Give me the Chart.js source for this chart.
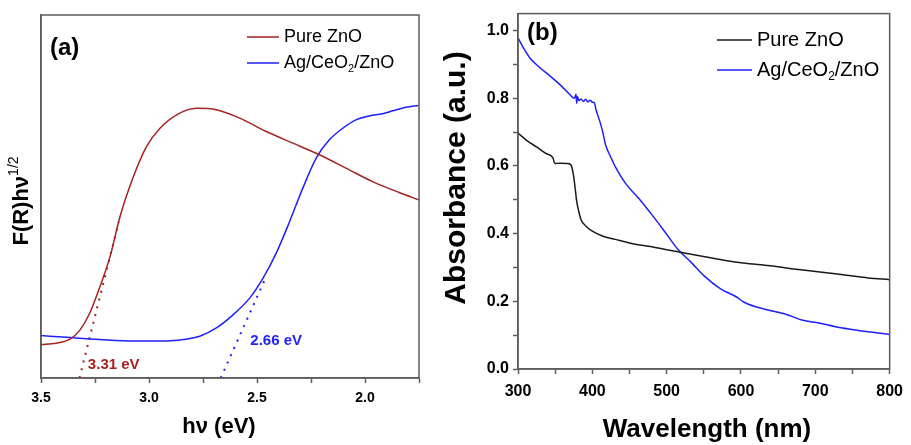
<!DOCTYPE html>
<html>
<head>
<meta charset="utf-8">
<script src="https://cdn.jsdelivr.net/npm/chart.js@4.4.0/dist/chart.umd.min.js"></script>
<style>
  html, body { margin: 0; padding: 0; background: #fff; width: 911px; height: 445px; overflow: hidden; }
  canvas { position: absolute; top: 0; }
</style>
</head>
<body>
<canvas id="chartA" width="440" height="445" style="left:0"></canvas>
<canvas id="chartB" width="471" height="445" style="left:440px"></canvas>
<script>
  // series names, "_{x}" = subscript
  const seriesNames = ['Pure ZnO', 'Ag/CeO_{2}/ZnO'];

  // (a) Tauc plot, F(R)hv^1/2 in arbitrary units
  const energyZnO = [3.5, 3.43, 3.366, 3.32, 3.274, 3.228, 3.18, 3.134, 3.072, 3.011, 2.949, 2.872, 2.78, 2.688, 2.58, 2.457, 2.334, 2.211, 2.088, 1.965, 1.842, 1.752];
  const taucZnO = [9.2, 9.6, 10.7, 13.2, 17.9, 25, 33.5, 44.5, 55.5, 63.8, 68.8, 72.5, 74.3, 73.9, 71.6, 67.9, 64.7, 61.5, 57.8, 54.1, 51.1, 49.1];
  const energyAg = [3.5, 3.38, 3.226, 3.072, 2.918, 2.842, 2.765, 2.688, 2.611, 2.534, 2.472, 2.411, 2.349, 2.288, 2.226, 2.165, 2.103, 2.042, 1.98, 1.918, 1.872, 1.811, 1.752];
  const taucAg = [11.7, 11.2, 10.6, 10.2, 10.2, 10.6, 11.5, 13.8, 17.4, 22.0, 27.5, 34.4, 43.1, 52.3, 60.6, 65.6, 68.8, 71.1, 72.2, 72.8, 73.6, 74.6, 75.1];
  // band gap tangents
  const tangentZnOx = [3.322, 3.14];
  const tangentZnOy = [0, 43];
  const tangentAgx = [2.668, 2.457];
  const tangentAgy = [0, 28];
  const gapLabels = ['3.31 eV', '2.66 eV'];

  // (b) absorbance spectra
  const wlZnO = [300, 312, 325, 338, 347, 349.5, 356, 367, 371.5, 374.6, 376.9, 379, 381.7, 384.8, 391.4, 400, 413.5, 431, 453, 480, 506, 533, 559, 581, 603, 639, 674, 709, 745, 771, 800];
  const absZnO = [0.697, 0.675, 0.656, 0.636, 0.624, 0.607, 0.608, 0.607, 0.602, 0.573, 0.534, 0.495, 0.466, 0.441, 0.422, 0.407, 0.393, 0.383, 0.371, 0.361, 0.350, 0.339, 0.329, 0.320, 0.313, 0.305, 0.295, 0.286, 0.276, 0.269, 0.264];
  const wlAg = [300, 307.5, 316, 329.6, 342.8, 356, 367, 373.8, 376, 378, 379, 380, 382, 385, 388, 391, 394, 397, 400, 403, 404.7, 409, 413.5, 418, 424.6, 431, 444.4, 462, 480, 497, 515, 533, 550, 572.5, 594.6, 603.4, 621, 638.8, 661, 683, 705, 727, 749, 771, 800];
  const absAg = [0.978, 0.948, 0.919, 0.890, 0.866, 0.841, 0.817, 0.802, 0.800, 0.812, 0.785, 0.805, 0.793, 0.798, 0.790, 0.797, 0.789, 0.794, 0.788, 0.786, 0.768, 0.739, 0.705, 0.661, 0.627, 0.597, 0.549, 0.505, 0.456, 0.407, 0.354, 0.315, 0.276, 0.237, 0.212, 0.198, 0.183, 0.173, 0.161, 0.144, 0.136, 0.125, 0.117, 0.110, 0.102];
  const absTicks = [0, 0.1, 0.2, 0.3, 0.4, 0.5, 0.6, 0.7, 0.8, 0.9, 1.0];

  const RED = '#a82222';
  const BLUE = '#1f1fff';
  const BLACK = '#1a1a1a';
  const FRAME = '#5c5c5c';
  const FAM = '"Liberation Sans", Arial, sans-serif';

  const pts = (xs, ys) => xs.map((x, i) => ({ x: x, y: ys[i] }));

  function parseRich(str) {
    const out = [];
    const re = /([_^])\{([^}]*)\}/g;
    let last = 0, m;
    while ((m = re.exec(str))) {
      if (m.index > last) out.push({ t: str.slice(last, m.index), k: '' });
      out.push({ t: m[2], k: m[1] });
      last = re.lastIndex;
    }
    if (last < str.length) out.push({ t: str.slice(last), k: '' });
    return out;
  }

  function drawRich(ctx, str, x, y, o) {
    const parts = parseRich(str);
    const font = p => p.k
      ? `${o.subWeight || o.weight} ${Math.round(o.size * (o.subScale || 0.62))}px ${FAM}`
      : `${o.weight} ${o.size}px ${FAM}`;
    let w = 0;
    parts.forEach(p => { ctx.font = font(p); p.w = ctx.measureText(p.t).width; w += p.w; });
    let cx = o.align === 'center' ? x - w / 2 : x;
    ctx.fillStyle = o.color || '#000';
    ctx.textAlign = 'left';
    ctx.textBaseline = 'middle';
    parts.forEach(p => {
      ctx.font = font(p);
      const dy = p.k === '_' ? o.size * 0.32 : p.k === '^' ? -o.size * 0.36 : 0;
      ctx.fillText(p.t, cx, y + dy);
      cx += p.w;
    });
  }

  // frame, legend and text labels
  function makeNotes(cfg) {
    return {
      id: 'notes',
      afterDraw(chart) {
        const ctx = chart.ctx, a = chart.chartArea;
        ctx.save();
        ctx.strokeStyle = FRAME;
        ctx.lineWidth = 1.5;
        ctx.strokeRect(a.left, a.top, a.right - a.left, a.bottom - a.top);

        const lg = cfg.legend;
        seriesNames.forEach((name, i) => {
          const y = lg.y + i * lg.dy;
          ctx.strokeStyle = chart.data.datasets[i].borderColor;
          ctx.lineWidth = 1.5;
          ctx.beginPath();
          ctx.moveTo(lg.x1, y);
          ctx.lineTo(lg.x2, y);
          ctx.stroke();
          drawRich(ctx, name, lg.x2 + 5, y, { size: lg.size, weight: 'normal', color: '#000', subScale: 0.6 });
        });

        cfg.texts.forEach(t => {
          let x = t.x, y = t.y;
          if (t.data) {
            x = chart.scales.x.getPixelForValue(t.x);
            y = chart.scales.y.getPixelForValue(t.y);
          }
          ctx.save();
          ctx.translate(x, y);
          if (t.rotate) ctx.rotate(t.rotate);
          drawRich(ctx, t.text, 0, 0, t);
          ctx.restore();
        });
        ctx.restore();
      }
    };
  }

  const curve = (label, data, color) => ({
    label: label, data: data, borderColor: color, borderWidth: 1.5,
    pointRadius: 0, cubicInterpolationMode: 'monotone', fill: false
  });
  const dotted = (data, color) => ({
    label: 'tangent', data: data, borderColor: color, borderWidth: 2,
    borderDash: [2, 6], pointRadius: 0, tension: 0, fill: false
  });

  // ---- (a) ----
  new Chart(document.getElementById('chartA'), {
    type: 'line',
    data: {
      datasets: [
        curve('Pure ZnO', pts(energyZnO, taucZnO), RED),
        curve('Ag/CeO₂/ZnO', pts(energyAg, taucAg), BLUE),
        dotted(pts(tangentZnOx, tangentZnOy), RED),
        dotted(pts(tangentAgx, tangentAgy), BLUE)
      ]
    },
    options: {
      responsive: false,
      animation: false,
      layout: { padding: { top: 15, right: 21, left: 0, bottom: 0 } },
      plugins: { legend: { display: false }, tooltip: { enabled: false } },
      scales: {
        x: {
          type: 'linear', reverse: true, min: 1.75, max: 3.5,
          afterFit: s => { s.height = 67; },
          ticks: {
            stepSize: 0.25, autoSkip: false, maxRotation: 0, padding: 7, color: '#000',
            font: { family: FAM, size: 14, weight: 'bold' },
            callback: v => Math.abs(v * 2 - Math.round(v * 2)) < 1e-6 ? v.toFixed(1) : ''
          },
          grid: { drawOnChartArea: false, tickLength: 5, tickColor: FRAME, tickWidth: 1.5 },
          border: { color: FRAME, width: 1.5 }
        },
        y: {
          type: 'linear', min: 0, max: 100,
          afterFit: s => { s.width = 41; },
          ticks: { display: false },
          grid: { display: false },
          border: { color: FRAME, width: 1.5 }
        }
      }
    },
    plugins: [makeNotes({
      legend: { x1: 247, x2: 279, y: 37, dy: 26, size: 18 },
      texts: [
        { text: '(a)', x: 50, y: 48, size: 24, weight: 'bold' },
        { text: 'F(R)hν^{1/2}', x: 22, y: 201, size: 22, weight: 'bold', subWeight: 'normal', subScale: 0.64, align: 'center', rotate: -Math.PI / 2 },
        { text: 'hν (eV)', x: 219, y: 427, size: 22, weight: 'bold', align: 'center' },
        { text: gapLabels[0], data: true, x: 3.283, y: 3.6, size: 15, weight: 'bold', color: RED },
        { text: gapLabels[1], data: true, x: 2.531, y: 10.2, size: 15, weight: 'bold', color: BLUE }
      ]
    })]
  });

  // ---- (b) ----
  new Chart(document.getElementById('chartB'), {
    type: 'line',
    data: {
      datasets: [
        curve('Pure ZnO', pts(wlZnO, absZnO), BLACK),
        curve('Ag/CeO₂/ZnO', pts(wlAg, absAg), BLUE)
      ]
    },
    options: {
      responsive: false,
      animation: false,
      layout: { padding: { top: 10, right: 16, left: 0, bottom: 0 } },
      plugins: { legend: { display: false }, tooltip: { enabled: false } },
      scales: {
        x: {
          type: 'linear', min: 300, max: 800,
          afterFit: s => { s.height = 76; },
          ticks: {
            stepSize: 50, autoSkip: false, maxRotation: 0, padding: 8, color: '#000',
            font: { family: FAM, size: 16, weight: 'bold' },
            callback: v => v % 100 === 0 ? String(v) : ''
          },
          grid: { drawOnChartArea: false, tickLength: 5, tickColor: FRAME, tickWidth: 1.5 },
          border: { color: FRAME, width: 1.5 }
        },
        y: {
          type: 'linear', min: 0, max: 1.05,
          afterFit: s => { s.width = 78; },
          afterBuildTicks: s => { s.ticks = absTicks.map(v => ({ value: v })); },
          ticks: {
            autoSkip: false, padding: 4, color: '#000',
            font: { family: FAM, size: 16, weight: 'bold' },
            callback: v => Math.abs(v * 5 - Math.round(v * 5)) < 1e-6 ? v.toFixed(1) : ''
          },
          grid: { drawOnChartArea: false, tickLength: 5, tickColor: FRAME, tickWidth: 1.5 },
          border: { color: FRAME, width: 1.5 }
        }
      }
    },
    plugins: [makeNotes({
      legend: { x1: 277, x2: 312, y: 40, dy: 30, size: 20 },
      texts: [
        { text: '(b)', x: 87, y: 33, size: 24, weight: 'bold' },
        { text: 'Absorbance (a.u.)', x: 17, y: 178, size: 30, weight: 'bold', align: 'center', rotate: -Math.PI / 2 },
        { text: 'Wavelength (nm)', x: 267, y: 430, size: 26, weight: 'bold', align: 'center' }
      ]
    })]
  });
</script>
</body>
</html>
